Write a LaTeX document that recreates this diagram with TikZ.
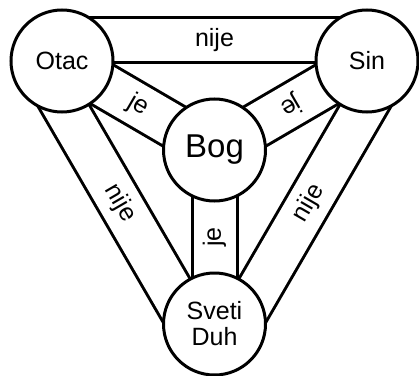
\documentclass[tikz,border=0pt]{standalone}
\usepackage{fontspec}
\setmainfont{Liberation Sans}
\usetikzlibrary{calc,backgrounds}
\tikzset{
  osoba/.style={circle, draw, fill=white, line width=3pt, minimum size=102pt,
    inner sep=0pt, align=center, font=\fontsize{25}{26}\selectfont},
  traka/.style={double, double distance=42pt, line width=3pt},
  natpis/.style={midway, sloped, allow upside down, inner sep=0pt,
    font=\fontsize{25}{26}\selectfont}
}

\begin{document}
\begin{tikzpicture}[x=1pt,y=1pt]
\useasboundingbox (0,0) rectangle (419,375);
\node[osoba] (otac) at (62,314) {Otac};
\node[osoba] (sin) at (367,314) {Sin};
\node[osoba, font=\fontsize{33}{34}\selectfont] (bog) at (214.5,225) {Bog};
\node[osoba] (duh) at (214.5,51) {Sveti\\Duh};
\begin{scope}[on background layer]
% vanjske trake
\draw[traka] ($(otac.center)!21pt!90:(sin.center)$) -- node[natpis] {nije} ($(sin.center)!21pt!-90:(otac.center)$);
\draw[traka] ($(otac.center)!21pt!-90:(duh.center)$) -- node[natpis] {nije} ($(duh.center)!21pt!90:(otac.center)$);
\draw[traka] ($(duh.center)!21pt!-90:(sin.center)$) -- node[natpis] {nije} ($(sin.center)!21pt!90:(duh.center)$);
% unutarnje trake
\draw[traka] (otac.center) -- node[natpis] {je} (bog.center);
\draw[traka] (sin.center) -- node[natpis] {je} (bog.center);
\draw[traka] (duh.center) -- node[natpis] {je} (bog.center);
\end{scope}
\end{tikzpicture}
\end{document}
